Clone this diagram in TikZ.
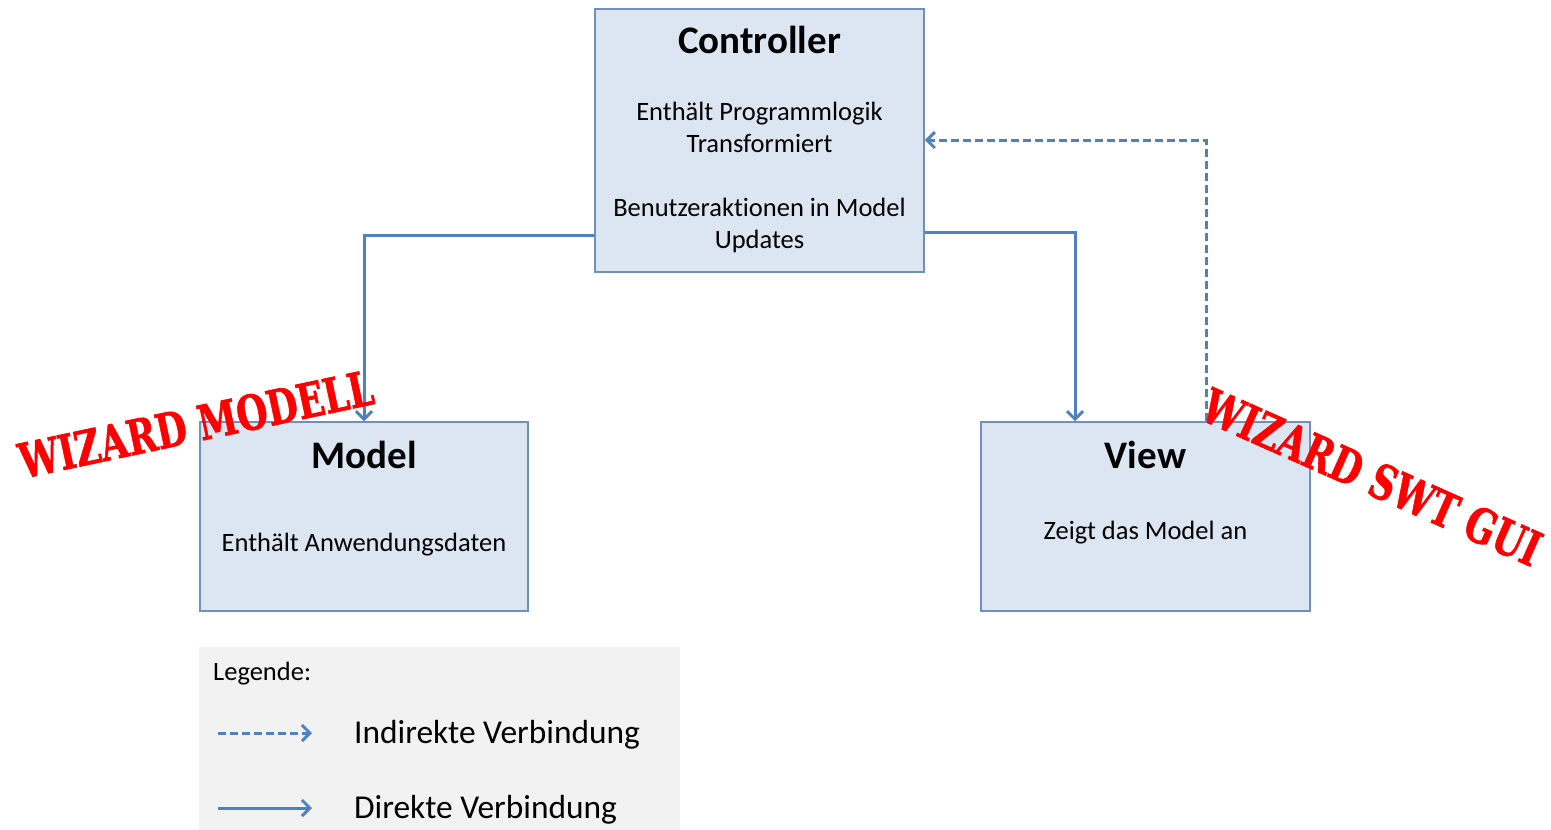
\documentclass[tikz,border=0pt]{standalone}
\usepackage{fontspec}
\setmainfont{Carlito}[Ligatures=NoCommon]
\newfontfamily\stampfont[FakeBold=1.5]{DejaVu Serif}
\usetikzlibrary{arrows.meta}
\definecolor{vboxfill}{HTML}{DCE6F2}
\definecolor{vboxline}{HTML}{6F8FC0}
\definecolor{varrow}{HTML}{4F81BD}
\definecolor{vlegend}{HTML}{F2F2F2}
\definecolor{vstamp}{HTML}{FF0000}

\begin{document}
\begin{tikzpicture}[x=1pt, y=-1pt,
		box/.style={draw=vboxline, fill=vboxfill, line width=1.5pt, inner sep=0pt},
		title/.style={font=\fontsize{39}{47}\selectfont\bfseries, inner sep=0pt},
		body/.style={font=\fontsize{26.5}{32}\selectfont, align=center, inner sep=0pt},
		legendtext/.style={font=\fontsize{33.4}{40}\selectfont, inner sep=0pt},
		direct/.style={draw=varrow, line width=3pt, -{Straight Barb[length=8pt, width=16pt]}},
		indirect/.style={direct, dash pattern=on 8pt off 4pt},
		stamp/.style={text=vstamp, font=\fontsize{48}{48}\selectfont\stampfont\bfseries, inner sep=0pt, xscale=0.74}]
		\useasboundingbox (0,0) rectangle (1551,830);
		\node[box, minimum width=329, minimum height=263] (controller) at (759.5,140.5) {};
		\node[box, minimum width=328, minimum height=189] (model) at (364,516.5) {};
		\node[box, minimum width=329, minimum height=189] (view) at (1145.5,516.5) {};
		\node[fill=vlegend, inner sep=0pt, minimum width=481, minimum height=183] (legend) at (439.5,738.5) {};
		\node[title] (controller-title) at (759.5,40) {Controller};
		\node[body] (controller-text) at (759.5,177) {Enthält Programmlogik\\Transformiert\\[32pt]Benutzeraktionen in Model\\Updates};
		\node[title] (model-title) at (364,455) {Model};
		\node[body] (model-text) at (364,545) {Enthält Anwendungsdaten};
		\node[title] (view-title) at (1145.5,455) {View};
		\node[body] (view-text) at (1145.5,533) {Zeigt das Model an};
		\draw[direct] ([yshift=-94.5]controller.west) -| (model.north);
		\draw[direct] ([yshift=-91.5]controller.east) -| ([xshift=-70.5]view.north);
		\draw[indirect] ([xshift=60.5]view.north) |- ([yshift=0.5]controller.east);
		\node[body, anchor=west] (legend-title) at (213,674) {Legende:};
		\coordinate (indirect-start) at (218,733);
		\coordinate (indirect-end) at (312,733);
		\coordinate (direct-start) at (218,808);
		\coordinate (direct-end) at (312,808);
		\draw[indirect] (indirect-start) -- (indirect-end);
		\draw[direct] (direct-start) -- (direct-end);
		\node[legendtext, anchor=west] (indirect-label) at (354,735) {Indirekte Verbindung};
		\node[legendtext, anchor=west] (direct-label) at (354,810) {Direkte Verbindung};
		\node[rotate=12, stamp] (stamp-model) at (196,424) {WIZARD MODELL};
		\node[rotate=-24, stamp] (stamp-view) at (1372,477) {WIZARD SWT GUI};
	\end{tikzpicture}
\end{document}
